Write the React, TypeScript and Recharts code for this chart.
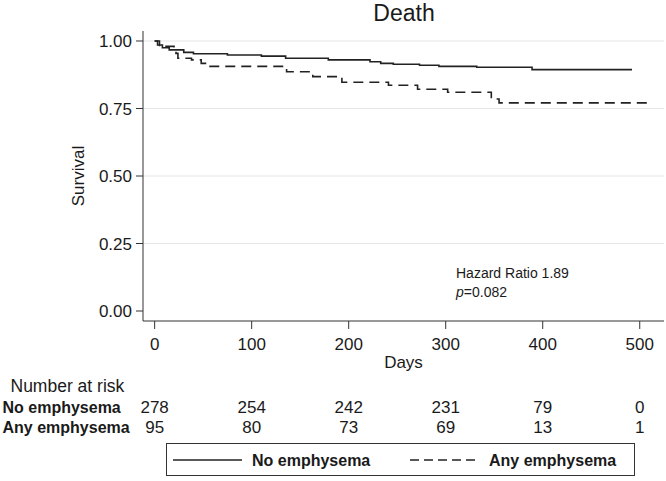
import { LineChart, Line, XAxis, YAxis, ReferenceLine } from 'recharts'

// Kaplan-Meier steps (days, survival)
const noDays = [0, 3, 8, 15, 30, 40, 75, 110, 135, 179, 222, 233, 246, 273, 293, 332, 389, 492]
const noSurv = [1.0, 0.985, 0.975, 0.967, 0.958, 0.953, 0.948, 0.944, 0.936, 0.93, 0.923, 0.917, 0.914, 0.91, 0.906, 0.903, 0.894, 0.894]
const anyDays = [0, 5, 20, 22, 24, 38, 48, 56, 136, 163, 193, 241, 271, 302, 347, 355, 510]
const anySurv = [1.0, 0.98, 0.973, 0.954, 0.936, 0.93, 0.917, 0.906, 0.886, 0.868, 0.847, 0.836, 0.821, 0.81, 0.785, 0.771, 0.771]

const xTicks = [0, 100, 200, 300, 400, 500]
const yTicks = [0, 0.25, 0.5, 0.75, 1]
const gridValues = [0.25, 0.5, 0.75, 1]
const noRisk = [278, 254, 242, 231, 79, 0]
const anyRisk = [95, 80, 73, 69, 13, 1]

const noData = noDays.map((t, i) => ({ t, s: noSurv[i] }))
const anyData = anyDays.map((t, i) => ({ t, s: anySurv[i] }))

const FONT = '"Liberation Sans", Arial, sans-serif'
const INK = '#1a1a1a'

function DayTick({ x, y, payload }: { x?: number; y?: number; payload?: { value: number } }) {
  const i = xTicks.indexOf(payload!.value)
  return (
    <g fontFamily={FONT} fontSize={17} fill={INK} textAnchor="middle">
      <text x={x} y={y} dy="0.71em" fill={INK}>{payload!.value}</text>
      <text x={x} y={y! + 75} fill={INK}>{noRisk[i]}</text>
      <text x={x} y={y! + 95} fill={INK}>{anyRisk[i]}</text>
    </g>
  )
}

export default function App() {
  return (
    <div style={{ position: 'absolute', left: 0, top: 0, width: 666, height: 481, background: '#fff' }}>
      <LineChart width={666} height={481} margin={{ top: 31, right: 2, left: 83, bottom: 120 }}>
        {gridValues.map(v => (
          <ReferenceLine key={v} y={v} stroke="#e6e6e6" strokeWidth={1} ifOverflow="extendDomain" />
        ))}
        <XAxis
          type="number"
          dataKey="t"
          domain={[-12, 525]}
          ticks={xTicks}
          allowDataOverflow
          height={40}
          tickSize={8}
          tickMargin={9}
          stroke="#333"
          tick={<DayTick />}
        />
        <YAxis
          type="number"
          domain={[-0.037, 1.037]}
          ticks={yTicks}
          allowDataOverflow
          width={60}
          tickSize={7}
          tickMargin={4}
          stroke="#333"
          tickFormatter={(v: number) => v.toFixed(2)}
          tick={{ fontFamily: FONT, fontSize: 17, fill: INK }}
        />
        <Line
          data={noData}
          dataKey="s"
          type="stepAfter"
          stroke="#222"
          strokeWidth={1.6}
          dot={false}
          isAnimationActive={false}
        />
        <Line
          data={anyData}
          dataKey="s"
          type="stepAfter"
          stroke="#222"
          strokeWidth={1.6}
          strokeDasharray="10 6"
          dot={false}
          isAnimationActive={false}
        />
      </LineChart>

      <svg
        width={666}
        height={481}
        style={{ position: 'absolute', left: 0, top: 0, pointerEvents: 'none' }}
        fontFamily={FONT}
        fill={INK}
      >
        <text x={404} y={21} fontSize={23} textAnchor="middle">Death</text>
        <text x={84} y={176} fontSize={17} textAnchor="middle" transform="rotate(-90 84 176)">Survival</text>
        <text x={403.5} y={368} fontSize={17} textAnchor="middle">Days</text>
        <text x={456} y={278} fontSize={14}>Hazard Ratio 1.89</text>
        <text x={456} y={297} fontSize={14}>
          <tspan fontStyle="italic">p</tspan>=0.082
        </text>

        <text x={10.5} y={392} fontSize={17.5}>Number at risk</text>
        <text x={2.5} y={413} fontSize={16} fontWeight="bold">No emphysema</text>
        <text x={2.5} y={433} fontSize={16} fontWeight="bold">Any emphysema</text>

        <rect x={166.5} y={443.5} width={468} height={32} fill="none" stroke="#333" strokeWidth={1} />
        <line x1={173} y1={460} x2={242} y2={460} stroke="#222" strokeWidth={1.6} />
        <text x={252} y={465.5} fontSize={16} fontWeight="bold">No emphysema</text>
        <line x1={410} y1={460} x2={478} y2={460} stroke="#222" strokeWidth={1.6} strokeDasharray="9 5" />
        <text x={489} y={465.5} fontSize={16} fontWeight="bold">Any emphysema</text>
      </svg>
    </div>
  )
}
